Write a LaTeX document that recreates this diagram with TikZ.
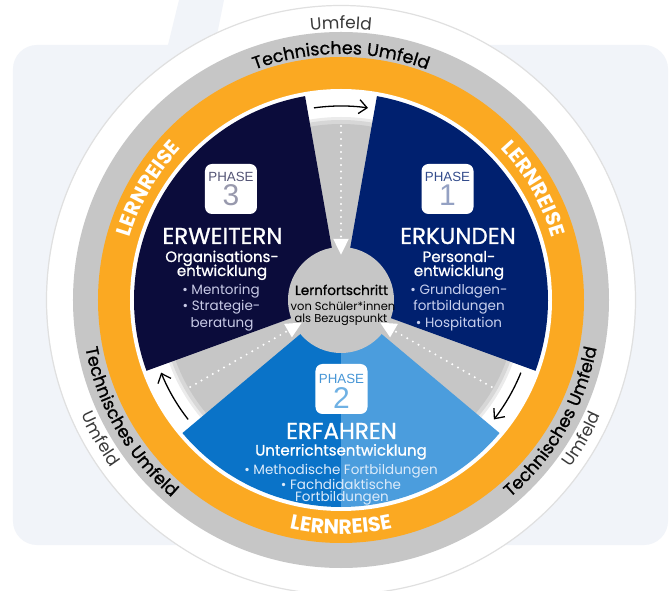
\documentclass[tikz,border=0pt]{standalone}
\usepackage{fontspec}
\setmainfont{Poppins}
\newfontfamily\mittelschrift{Poppins}[FakeBold=0.9]
\newfontfamily\boxschrift{Liberation Sans}
\usetikzlibrary{arrows.meta,decorations.text}

\definecolor{hgrund}{HTML}{F1F4F9}
\definecolor{ringgrau}{HTML}{C6C6C6}
\definecolor{lernorange}{HTML}{FBA922}
\definecolor{umfeldgrau}{HTML}{3A3A3A}
\definecolor{phasedrei}{HTML}{0B0C3B}
\definecolor{phaseeins}{HTML}{00206F}
\definecolor{phasezweiA}{HTML}{0A73C8}
\definecolor{phasezweiB}{HTML}{4B9DDD}
\definecolor{listedrei}{HTML}{C8CAE6}
\definecolor{listeeins}{HTML}{C8D0EE}
\definecolor{listezwei}{HTML}{DCEBFA}

\newcommand{\umfeldschrift}{\fontsize{17}{17}\selectfont}
\newcommand{\technikschrift}{\mittelschrift\fontsize{17.5}{17.5}\selectfont}
\newcommand{\reiseschrift}{\fontsize{20.5}{20.5}\selectfont\bfseries}

\begin{document}
\begin{tikzpicture}[x=1pt,y=1pt,
	titel/.style={text=white, anchor=base, inner sep=0pt, font=\mittelschrift\fontsize{23}{23}\selectfont},
	unter/.style={text=white, anchor=base, inner sep=0pt, font=\mittelschrift\fontsize{15}{15}\selectfont},
	liste/.style={anchor=base, inner sep=0pt, font=\fontsize{13.5}{13.5}\selectfont},
	mittetext/.style={anchor=base, inner sep=0pt, text=black, font=\fontsize{11.5}{11.5}\selectfont},
	phasebox/.style={fill=white, rounded corners=7pt, minimum width=52pt, minimum height=50pt, inner sep=0pt},
	phasewort/.style={inner sep=0pt, font=\boxschrift\fontsize{13.3}{13.3}\selectfont},
	phasenr/.style={inner sep=0pt, font=\boxschrift\fontsize{30}{30}\selectfont},
	pfeil/.style={black, line width=1.3pt, -{Straight Barb[length=8pt,width=14pt]}},
	punktpfeil/.style={white, line width=2.2pt, line cap=round, dash pattern=on 0pt off 6.5pt,
		shorten >=-8pt, -{Triangle[length=16pt,width=15pt]}},
	bogentext/.style={decorate, decoration={text along path, text align=center, text={#1}}}
	]
	
	\useasboundingbox (-341,-291) rectangle (328,300);
	
	% Hintergrund
	\fill[white] (-341,-291) rectangle (328,300);
	\fill[hgrund] (-162,300) -- (-117,300) -- (-126,255) -- (-173,255) -- cycle;
	\fill[hgrund, rounded corners=24pt] (-328,-245) rectangle (327,255);
	
	% Ringe: Umfeld, Technisches Umfeld, Lernreise
	\fill[white] (0,0) circle[radius=294pt];
	\draw[black!12, line width=1.2pt] (0,0) circle[radius=294.5pt];
	\fill[ringgrau] (0,0) circle[radius=268pt];
	\fill[lernorange] (0,0) circle[radius=243pt];
	\fill[white] (0,0) circle[radius=211pt];
	
	% grauer Innenkreis mit weichem Rand
	\fill[ringgrau!35] (0,0) circle[radius=183pt];
	\fill[ringgrau!70] (0,0) circle[radius=180pt];
	\fill[ringgrau] (0,0) circle[radius=176pt];
	
	% Die drei Phasen
	\fill[phasedrei] (0,0) -- (100:207) arc[start angle=100, end angle=200, radius=207pt] -- cycle; % Phase 3
	\fill[phaseeins] (0,0) -- (-20:207) arc[start angle=-20, end angle=80, radius=207pt] -- cycle;  % Phase 1
	\fill[phasezweiA] (0,0) -- (220:207) arc[start angle=220, end angle=270, radius=207pt] -- cycle; % Phase 2 links
	\fill[phasezweiB] (0,0) -- (270:207) arc[start angle=270, end angle=320, radius=207pt] -- cycle; % Phase 2 rechts
	
	% Mitte
	\node[circle, fill=ringgrau, minimum size=106pt, inner sep=0pt] (mitte) at (0,0) {};
	
	% gepunktete Pfeile zur Mitte
	\foreach \w/\name in {90/oben,210/links,330/rechts} {
		\coordinate (luecke\name) at (\w:174);
		\draw[punktpfeil] (luecke\name) -- (mitte);
	}
	
	% Pfeile im Uhrzeigersinn
	\foreach \w/\name in {90/oben,210/links,330/rechts} {
		\coordinate (bogen\name) at (\w+8:194);
		\draw[pfeil] (bogen\name) arc[start angle=\w+8, end angle=\w-8, radius=194pt];
	}
	
	% Phase 3
	\node[phasebox] (box3) at (-110,111) {};
	\node[phasewort, text=phasedrei!70!white] (wort3) at (-110,123.5) {PHASE};
	\node[phasenr, text=phasedrei!42!white] (nr3) at (-110,104.5) {3};
	\node[titel] (erweitern) at (-118.5,56) {ERWEITERN};
	\node[unter] (organisation) at (-119,38) {Organisations-};
	\node[unter] (entwicklung3) at (-119,24) {entwicklung};
	\node[liste, text=listedrei] (mentoring) at (-120,5.5) {\textbullet\ Mentoring};
	\node[liste, text=listedrei] (strategie) at (-119.5,-11) {\textbullet\ Strategie-};
	\node[liste, text=listedrei] (beratung) at (-119,-27.5) {beratung};
	
	% Phase 1
	\node[phasebox] (box1) at (106.5,111) {};
	\node[phasewort, text=phaseeins!80!white] (wort1) at (106.5,123.5) {PHASE};
	\node[phasenr, text=phaseeins!42!white] (nr1) at (106.5,104.5) {1};
	\node[titel] (erkunden) at (117,56) {ERKUNDEN};
	\node[unter] (personal) at (118,38) {Personal-};
	\node[unter] (entwicklung1) at (118,24) {entwicklung};
	\node[liste, text=listeeins] (grundlagen) at (118,5.5) {\textbullet\ Grundlagen-};
	\node[liste, text=listeeins] (fortbildungen1) at (118,-11) {fortbildungen};
	\node[liste, text=listeeins] (hospitation) at (118,-27.5) {\textbullet\ Hospitation};
	
	% Phase 2
	\node[phasebox] (box2) at (0.5,-89) {};
	\node[phasewort, text=phasezweiA!75!white] (wort2) at (0.5,-79) {PHASE};
	\node[phasenr, text=phasezweiB!80!white] (nr2) at (0.5,-98) {2};
	\node[titel] (erfahren) at (0.5,-139) {ERFAHREN};
	\node[unter] (unterricht) at (0,-155.5) {Unterrichtsentwicklung};
	\node[liste, text=listezwei] (methodisch) at (0,-174.5) {\textbullet\ Methodische Fortbildungen};
	\node[liste, text=listezwei] (fachdidaktisch) at (0,-189) {\textbullet\ Fachdidaktische};
	\node[liste, text=listezwei] (fortbildungen2) at (1,-201) {Fortbildungen};
	
	% Text in der Mitte
	\node[mittetext, font=\mittelschrift\fontsize{13.5}{13.5}\selectfont] (lernfortschritt) at (0.5,5) {Lernfortschritt};
	\node[mittetext] (schueler) at (2,-11) {von Schüler*innen};
	\node[mittetext] (bezug) at (0,-22.5) {als Bezugspunkt};
	
	% Beschriftung der Ringe (oben im Uhrzeigersinn, unten gegen den Uhrzeigersinn)
	\path[bogentext={|\umfeldschrift\color{umfeldgrau}|Umfeld}] (150:271) arc[start angle=150, end angle=30, radius=271pt];
	\path[bogentext={|\technikschrift\color{black}|Technisches Umfeld}] (150:246) arc[start angle=150, end angle=30, radius=246pt];
	\foreach \w in {210,330} {
		\path[bogentext={|\umfeldschrift\color{umfeldgrau}|Umfeld}] (\w-60:284) arc[start angle=\w-60, end angle=\w+60, radius=284pt];
		\path[bogentext={|\technikschrift\color{black}|Technisches Umfeld}] (\w-60:260) arc[start angle=\w-60, end angle=\w+60, radius=260pt];
	}
	\foreach \w in {30,150}
		\path[bogentext={|\reiseschrift\color{white}|LERNREISE}] (\w+50:220) arc[start angle=\w+50, end angle=\w-50, radius=220pt];
	\path[bogentext={|\reiseschrift\color{white}|LERNREISE}] (220:234) arc[start angle=220, end angle=320, radius=234pt];
	
\end{tikzpicture}
\end{document}
